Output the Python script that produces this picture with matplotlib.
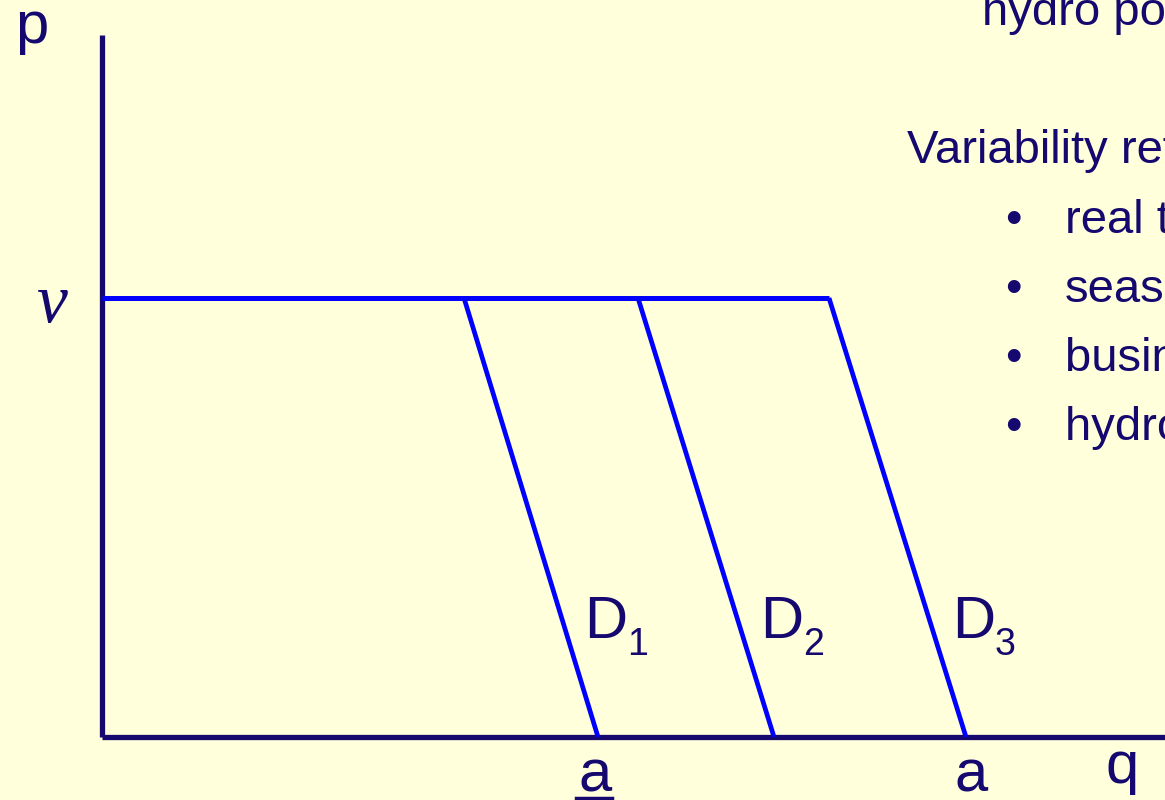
import matplotlib
matplotlib.use("Agg")
import matplotlib.pyplot as plt

# price level and demand curves (q at price v, q at price 0)
v_level = 4.39
p_axis_top = 7.02
q_axis_right = 10.8
demand_names = ["D", "D", "D"]
demand_subs = ["1", "2", "3"]
q_at_v = [3.62, 5.36, 7.27]
q_at_zero = [4.96, 6.72, 8.64]

side_title = "Variability reflects:"
side_items = ["real time", "seasonal", "business cycle", "hydro conditions"]
top_line = "hydro power"

bg = "#ffffdc"
navy = "#15086e"
blue = "#0000ff"

fig = plt.figure(figsize=(11.65, 8), dpi=100, facecolor=bg)
ax = fig.add_axes([0, 0, 1, 1])
ax.set_facecolor(bg)
ax.set_xlim(-1.02, 10.63)
ax.set_ylim(-0.63, 7.37)
ax.axis("off")

font = dict(color=navy, family="Liberation Sans")

# axes of the diagram
ax.plot([0, 0], [0, p_axis_top], color=navy, lw=3.8, solid_capstyle="butt")
ax.plot([0, q_axis_right], [0, 0], color=navy, lw=3.8, solid_capstyle="butt")

# price ceiling and demand curves
ax.plot([0, q_at_v[-1]], [v_level, v_level], color=blue, lw=3.6, solid_capstyle="butt")
for name, sub, qt, qb in zip(demand_names, demand_subs, q_at_v, q_at_zero):
    ax.plot([qt, qb], [v_level, 0], color=blue, lw=3.4, solid_capstyle="butt")
    ax.text(qb - 0.14, 0.99, name, fontsize=43, ha="left", va="baseline", **font)
    ax.text(qb + 0.29, 0.82, sub, fontsize=27, ha="left", va="baseline", **font)

ax.text(-0.87, 6.94, "p", fontsize=43, ha="left", va="baseline", **font)
ax.text(10.03, -0.46, "q", fontsize=43, ha="left", va="baseline", **font)
ax.text(-0.35, 4.15, "v", fontsize=50, color=navy, ha="right", va="baseline",
        family="Liberation Serif", style="italic")

# lower and upper bound of quantity
ax.text(q_at_zero[0] - 0.03, -0.54, "a", fontsize=43, ha="center", va="baseline", **font)
ax.plot([q_at_zero[0] - 0.22, q_at_zero[0] + 0.14], [-0.605, -0.605], color=navy, lw=2.5)
ax.text(q_at_zero[-1] + 0.05, -0.54, "a", fontsize=43, ha="center", va="baseline", **font)

# side text, cut by the slide edge
ax.text(8.80, 7.12, top_line, fontsize=34, ha="left", va="baseline", **font)
ax.text(8.05, 5.74, side_title, fontsize=34, ha="left", va="baseline", **font)
for i, item in enumerate(side_items):
    y = 5.04 - 0.69 * i
    ax.text(9.03, y, "\u2022", fontsize=34, ha="left", va="baseline", **font)
    ax.text(9.63, y, item, fontsize=34, ha="left", va="baseline", **font)

fig.savefig("out.png", dpi=100, facecolor=bg)
